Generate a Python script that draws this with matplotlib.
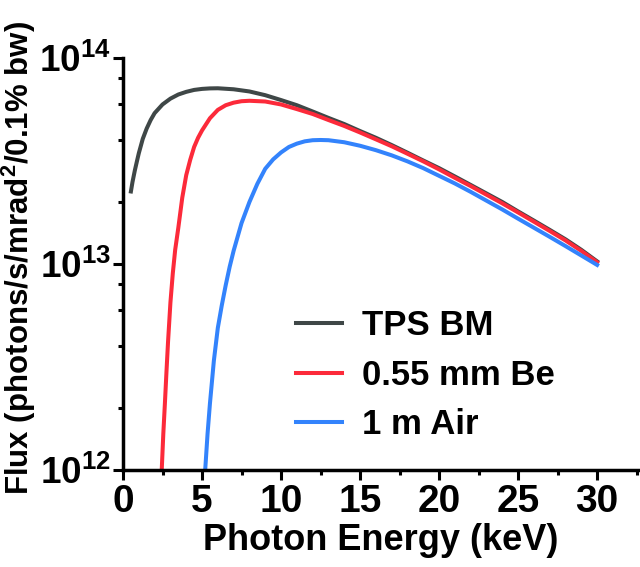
import math
import matplotlib
matplotlib.use("Agg")
import matplotlib.pyplot as plt
from matplotlib.ticker import MultipleLocator, LogLocator, FixedLocator, FuncFormatter

plt.rcParams['font.family'] = ['Liberation Sans', 'DejaVu Sans']
plt.rcParams['font.weight'] = 'bold'
plt.rcParams['mathtext.fontset'] = 'custom'
plt.rcParams['mathtext.rm'] = 'Liberation Sans:bold'
plt.rcParams['mathtext.bf'] = 'Liberation Sans:bold'
plt.rcParams['mathtext.it'] = 'Liberation Sans:bold'

# Data
x_bm = [0.5, 0.6, 0.75, 0.9, 1.0, 1.25, 1.5, 1.75, 2.0, 2.5, 3.0, 3.5, 4.0, 4.5, 5.0,
        5.5, 6.0, 7.0, 8.0, 9.0, 10.0, 11.0, 12.0, 13.0, 14.0, 15.0, 16.0, 17.0,
        18.0, 19.0, 20.0, 21.0, 22.0, 23.0, 24.0, 25.0, 26.0, 27.0, 28.0, 29.0, 30.0]
y_bm = [2.25e13, 2.5e13, 2.85e13, 3.2e13, 3.45e13, 4.05e13, 4.55e13, 5.0e13, 5.4e13,
        5.95e13, 6.35e13, 6.65e13, 6.85e13, 7.0e13, 7.08e13, 7.12e13, 7.13e13, 7.05e13,
        6.88e13, 6.6e13, 6.25e13, 5.9e13, 5.5e13, 5.12e13, 4.78e13, 4.42e13, 4.1e13,
        3.78e13, 3.47e13, 3.18e13, 2.92e13, 2.66e13, 2.42e13, 2.2e13, 2.0e13, 1.8e13,
        1.625e13, 1.465e13, 1.318e13, 1.172e13, 1.03e13]

x_be = [2.45, 2.55, 2.65, 2.75, 2.85, 3.0, 3.15, 3.3, 3.5, 3.75, 4.0, 4.25, 4.5, 4.75,
        5.0, 5.5, 6.0, 6.5, 7.0, 7.5, 8.0, 9.0, 10.0, 11.0, 12.0, 13.0, 14.0, 15.0,
        16.0, 17.0, 18.0, 19.0, 20.0, 21.0, 22.0, 23.0, 24.0, 25.0, 26.0, 27.0, 28.0,
        29.0, 30.0]
y_be = [1.0e12, 1.5e12, 2.1e12, 3.0e12, 4.2e12, 6.5e12, 9.0e12, 1.17e13, 1.5e13,
        2.1e13, 2.7e13, 3.2e13, 3.7e13, 4.1e13, 4.45e13, 5.1e13, 5.6e13, 5.9e13, 6.07e13,
        6.17e13, 6.2e13, 6.15e13, 5.95e13, 5.65e13, 5.35e13, 5.0e13, 4.68e13, 4.35e13,
        4.03e13, 3.73e13, 3.43e13, 3.15e13, 2.88e13, 2.62e13, 2.39e13, 2.17e13, 1.97e13,
        1.78e13, 1.605e13, 1.447e13, 1.302e13, 1.158e13, 1.02e13]

x_air = [5.2, 5.35, 5.5, 5.75, 6.0, 6.25, 6.5, 6.75, 7.0, 7.5, 8.0, 8.5, 9.0, 9.5,
         10.0, 10.5, 11.0, 11.5, 12.0, 12.5, 13.0, 14.0, 15.0, 16.0, 17.0, 18.0, 19.0,
         20.0, 21.0, 22.0, 23.0, 24.0, 25.0, 26.0, 27.0, 28.0, 29.0, 30.0]
y_air = [1.0e12, 1.5e12, 2.1e12, 3.4e12, 4.9e12, 6.3e12, 7.9e12, 9.7e12, 1.16e13,
         1.58e13, 2.0e13, 2.45e13, 2.9e13, 3.22e13, 3.48e13, 3.7e13, 3.84e13, 3.94e13,
         3.99e13, 4.0e13, 3.99e13, 3.9e13, 3.75e13, 3.57e13, 3.37e13, 3.15e13, 2.92e13,
         2.68e13, 2.46e13, 2.24e13, 2.03e13, 1.84e13, 1.66e13, 1.5e13, 1.355e13, 1.222e13,
         1.1e13, 0.99e13]

labels = ['TPS BM', '0.55 mm Be', '1 m Air']
colors = ['#3f4747', '#fc2a3a', '#3383fc']

x_ticks = [0, 5, 10, 15, 20, 25, 30]
y_ticks = [1e12, 1e13, 1e14]

fig = plt.figure(figsize=(6.4, 5.67), dpi=100)
ax = fig.add_axes([0.1922, 0.171, 0.805, 0.7267])

ax.plot(x_bm, y_bm, color=colors[0], lw=2.9, label=labels[0])
ax.plot(x_be, y_be, color=colors[1], lw=2.9, label=labels[1])
ax.plot(x_air, y_air, color=colors[2], lw=2.9, label=labels[2])

ax.set_yscale('log')
ax.set_xlim(0, 32.6)
ax.set_ylim(1e12, 1e14)

ax.xaxis.set_major_locator(FixedLocator(x_ticks))
ax.xaxis.set_minor_locator(MultipleLocator(2.5))
ax.yaxis.set_major_locator(FixedLocator(y_ticks))
ax.yaxis.set_minor_locator(LogLocator(base=10, subs=(2, 4, 6, 8)))
ax.yaxis.set_minor_formatter(FuncFormatter(lambda v, p: ''))


def yfmt(v, p):
    e = int(round(math.log10(v)))
    return r'$\mathbf{10^{%d}}$' % e


ax.yaxis.set_major_formatter(FuncFormatter(yfmt))

for s in ['top', 'right']:
    ax.spines[s].set_visible(False)
for s in ['left', 'bottom']:
    ax.spines[s].set_linewidth(2.5)

ax.tick_params(which='major', direction='out', length=7, width=2.2, labelsize=28, pad=3)
ax.tick_params(axis='y', which='major', pad=2, labelsize=26.5)
ax.tick_params(which='minor', direction='out', length=3.5, width=2.2)
for lab in ax.get_xticklabels() + ax.get_yticklabels():
    lab.set_fontweight('bold')

ax.set_xlabel('Photon Energy (keV)', fontsize=26, fontweight='bold', labelpad=2)
ax.set_ylabel(r'Flux (photons/s/mrad$^\mathbf{2}$/0.1% bw)', fontsize=22.5, fontweight='bold')
ax.yaxis.set_label_coords(-0.165, 0.515)

leg = ax.legend(loc='upper left', bbox_to_anchor=(0.336, 0.39), frameon=False,
                fontsize=25, handlelength=1.33, handletextpad=0.58, labelspacing=0.47,
                borderaxespad=0, borderpad=0)
for t in leg.get_texts():
    t.set_fontweight('bold')

fig.savefig('out.png', dpi=100)
